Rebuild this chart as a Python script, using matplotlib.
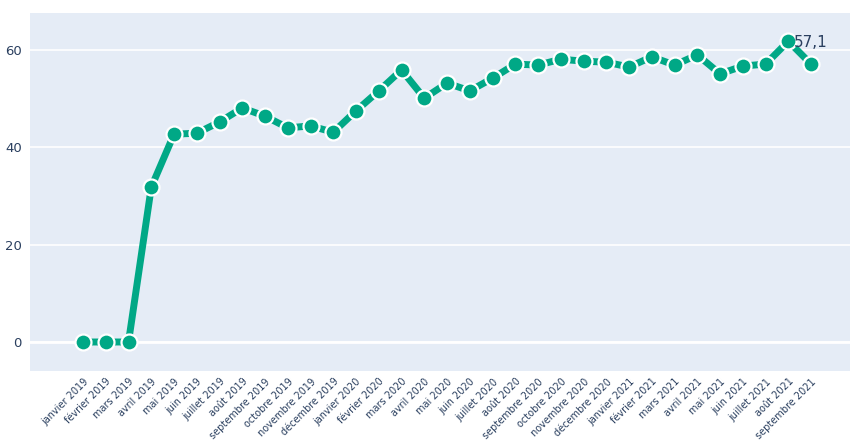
import matplotlib
matplotlib.use('Agg')
import matplotlib.pyplot as plt
import numpy as np

mois = ['janvier 2019', 'février 2019', 'mars 2019', 'avril 2019', 'mai 2019', 'juin 2019',
        'juillet 2019', 'août 2019', 'septembre 2019', 'octobre 2019', 'novembre 2019',
        'décembre 2019', 'janvier 2020', 'février 2020', 'mars 2020', 'avril 2020', 'mai 2020',
        'juin 2020', 'juillet 2020', 'août 2020', 'septembre 2020', 'octobre 2020',
        'novembre 2020', 'décembre 2020', 'janvier 2021', 'février 2021', 'mars 2021',
        'avril 2021', 'mai 2021', 'juin 2021', 'juillet 2021', 'août 2021', 'septembre 2021']
valeurs = [0, 0, 0, 31.8, 42.7, 42.9, 45.2, 48.1, 46.4, 44.0, 44.4, 43.1,
           47.5, 51.6, 55.9, 50.1, 53.2, 51.6, 54.2, 57.1, 56.9, 58.1, 57.7, 57.5,
           56.5, 58.6, 56.9, 59.0, 55.1, 56.7, 57.1, 61.8, 57.1]
yticks = [0, 20, 40, 60]

vert = '#00a886'
texte = '#2a3f5f'

fig = plt.figure(figsize=(8.5, 4.4), dpi=100)
ax = fig.add_axes([30 / 850, 1 - 371 / 440, 820 / 850, 358 / 440])
ax.set_facecolor('#e5ecf6')

x = np.arange(len(mois))
ax.plot(x, valeurs, color=vert, linewidth=5, solid_joinstyle='round', zorder=3,
        marker='o', markersize=11.5, markerfacecolor=vert, markeredgecolor='white',
        markeredgewidth=1.6)

# valeur du dernier mois
ax.annotate(f'{valeurs[-1]:.1f}'.replace('.', ','), (x[-1], valeurs[-1]),
            xytext=(0, 22), textcoords='offset pixels', ha='center', va='center',
            fontsize=11, color=texte, zorder=4)

ax.set_xlim(-2.33, 33.71)
ax.set_ylim(-5.96, 67.6)
ax.set_yticks(yticks)
ax.set_yticklabels([str(v) for v in yticks], fontsize=9.5, color=texte)
ax.set_xticks(x)
ax.set_xticklabels(mois, rotation=45, ha='right', rotation_mode='anchor',
                   fontsize=7, color=texte)
ax.tick_params(axis='both', length=0)
ax.tick_params(axis='y', pad=6)
ax.tick_params(axis='x', pad=4)
ax.grid(axis='y', color='white', linewidth=1.2)
ax.axhline(0, color='white', linewidth=2, zorder=1)
ax.set_axisbelow(True)
for s in ax.spines.values():
    s.set_visible(False)

fig.savefig('out.png', dpi=100)
